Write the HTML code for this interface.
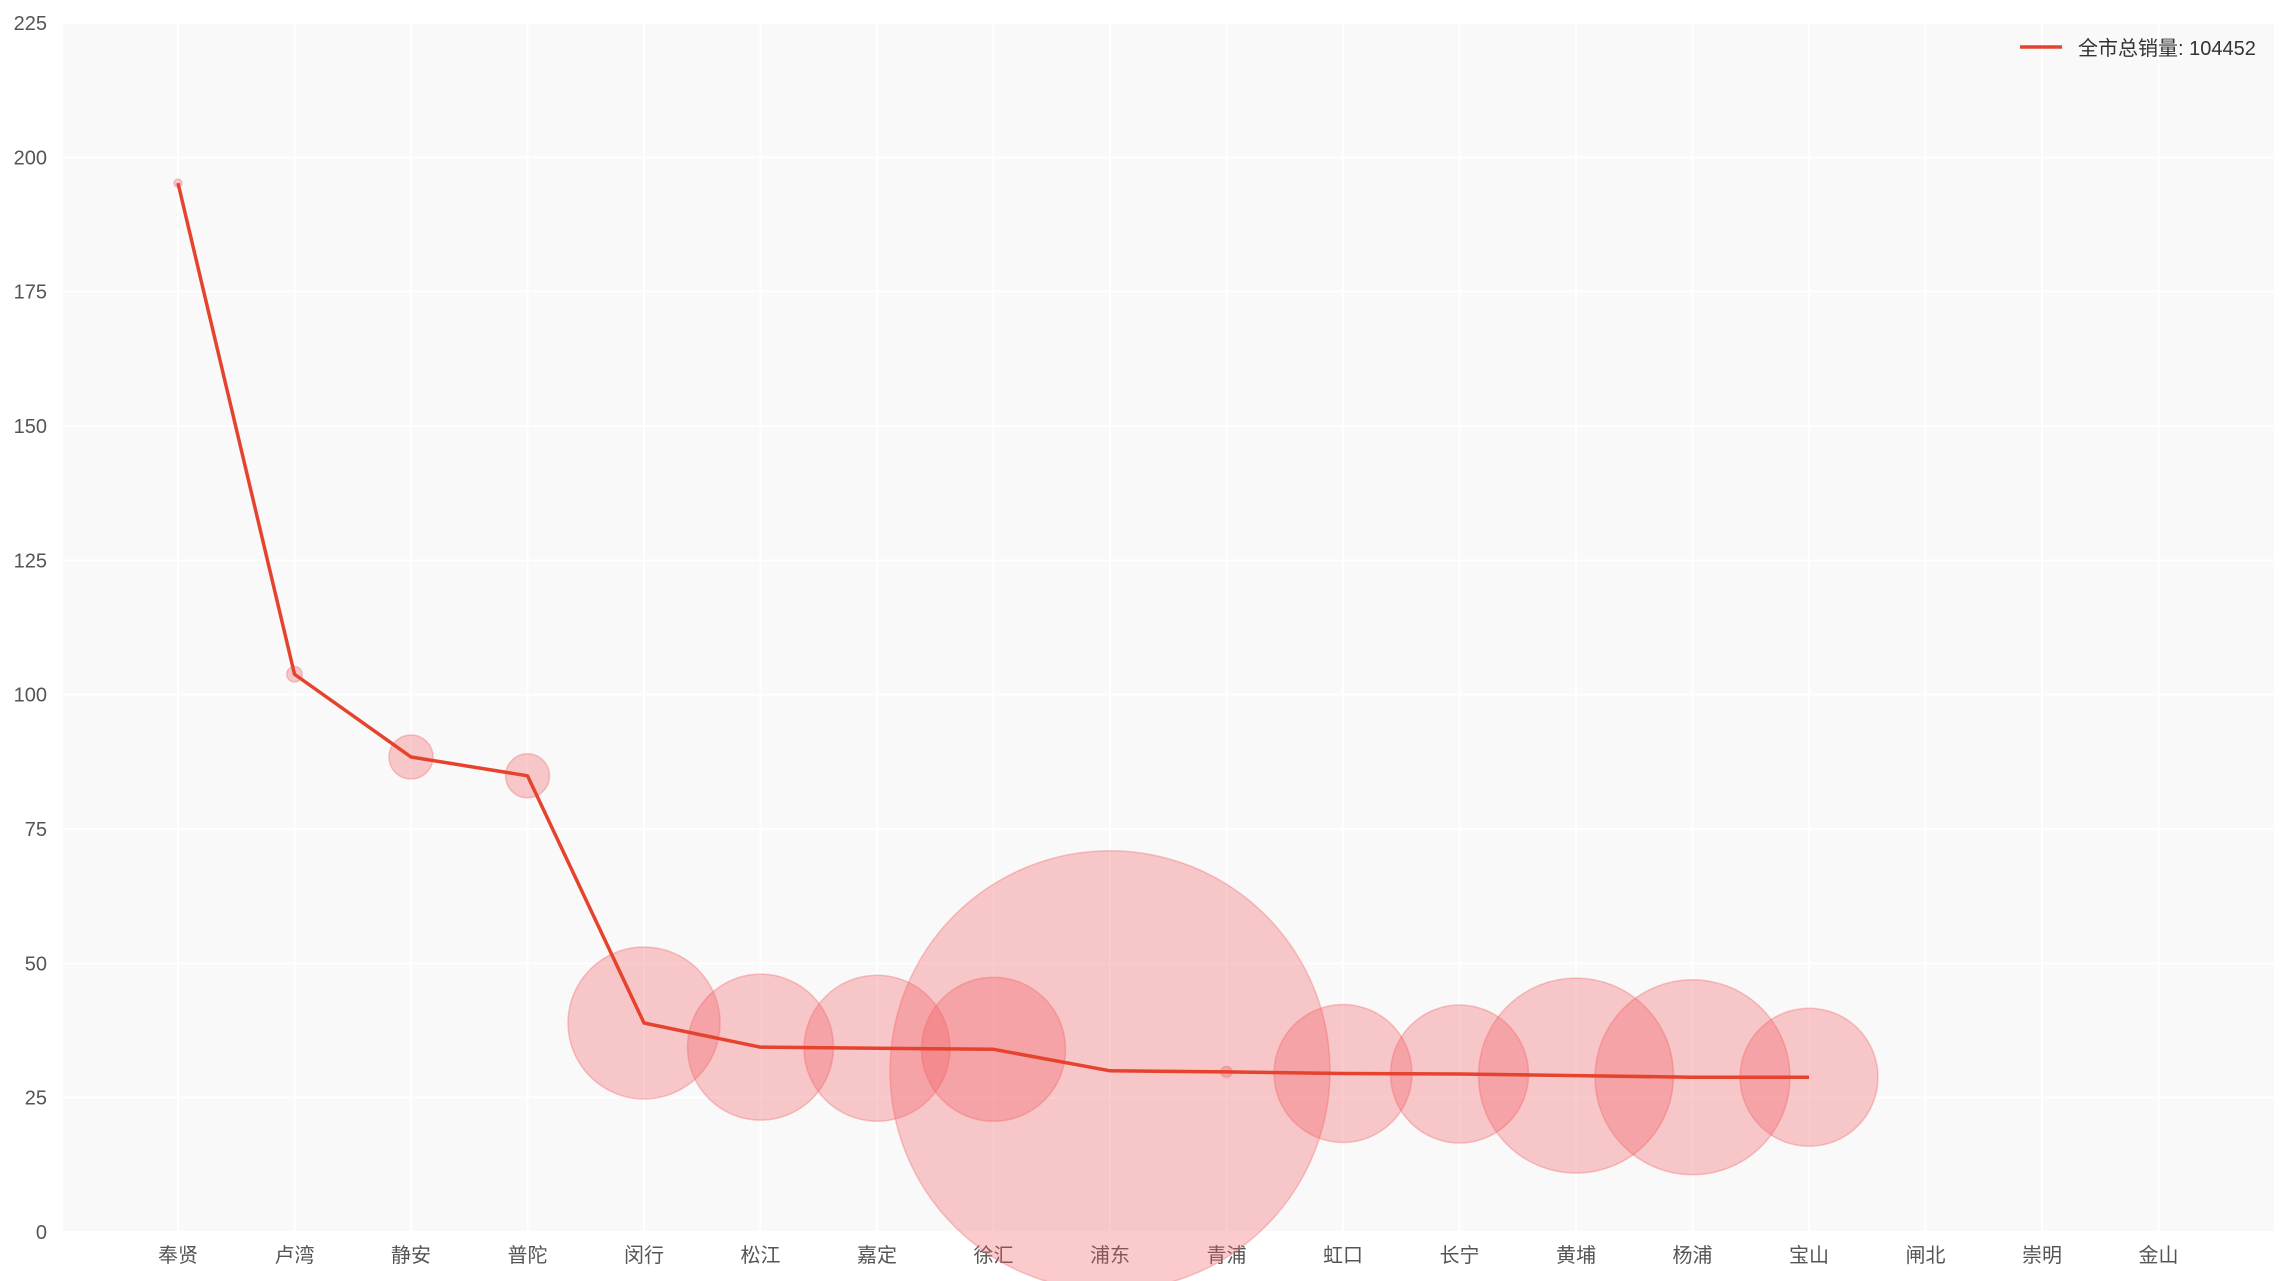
<!DOCTYPE html>
<html><head><meta charset="utf-8">
<style>
html,body{margin:0;padding:0;background:#fff;}
svg{display:block;font-family:"Liberation Sans","Noto Sans CJK SC",sans-serif;}
</style></head>
<body>
<svg id="chart" width="2289" height="1281" viewBox="0 0 2289 1281" xmlns="http://www.w3.org/2000/svg">
  <rect x="63" y="23" width="2211" height="1209" fill="#f9f9f9"/>
  <g id="grid"></g>
  <g id="yaxis"></g>
  <g id="xaxis"></g>
  <g id="bubbles"></g>
  <g id="line"></g>
  <g>
    <line x1="2020" y1="47" x2="2062" y2="47" stroke="#e5432e" stroke-width="3.5"/>
    <text x="2078" y="55" font-size="20" fill="#333">全市总销量: 104452</text>
  </g>
</svg>
<script>
const categories = ["奉贤","卢湾","静安","普陀","闵行","松江","嘉定","徐汇","浦东","青浦","虹口","长宁","黄埔","杨浦","宝山","闸北","崇明","金山"];
const avgValues = [195.2,103.8,88.4,84.9,38.9,34.4,34.2,34.0,30.0,29.8,29.5,29.4,29.1,28.8,28.8];
const salesValues = [16,60,484,484,5776,5329,5329,5184,48400,30,4761,4761,9506,9506,4761];
const yTicks = [0,25,50,75,100,125,150,175,200,225];

const NS = "http://www.w3.org/2000/svg";
const L = 63, R = 2274, T = 23, B = 1232;
const yMax = 225;
const x0 = 178, step = 116.5;
function xScale(i){ return x0 + i*step; }
function yScale(v){ return B - (v/yMax)*(B-T); }
function rScale(s){ return Math.sqrt(s); }
function mk(tag, attrs, parent){
  const el = document.createElementNS(NS, tag);
  for (const k in attrs) el.setAttribute(k, attrs[k]);
  parent.appendChild(el);
  return el;
}
const grid = document.getElementById('grid');
const yaxis = document.getElementById('yaxis');
const xaxis = document.getElementById('xaxis');
yTicks.forEach(v => {
  const y = yScale(v);
  const gl = mk('line', {x1:L, x2:R, y1:y, y2:y, stroke:'#ffffff', 'stroke-width':2}, grid);
  
  
  const t = mk('text', {x:47, y:y+7, 'font-size':20, fill:'#555', 'text-anchor':'end'}, yaxis);
  t.textContent = v;
  
  
});
categories.forEach((c, i) => {
  const x = xScale(i);
  const gl = mk('line', {x1:x, x2:x, y1:T, y2:B, stroke:'#ffffff', 'stroke-width':2}, grid);
  
  
  const t = mk('text', {x:x, y:1262, 'font-size':20, fill:'#555', 'text-anchor':'middle'}, xaxis);
  t.textContent = c;
  
  
});
const bubbles = document.getElementById('bubbles');
salesValues.forEach((s, i) => {
  const c = mk('circle', {cx:xScale(i), cy:yScale(avgValues[i]), r:rScale(s), fill:'rgba(242,90,95,0.32)', stroke:'rgba(240,100,100,0.35)', 'stroke-width':1.5}, bubbles);
  
  
});
const lineG = document.getElementById('line');
const pts = avgValues.map((v, i) => xScale(i) + ',' + yScale(v)).join(' ');
const pl = mk('polyline', {points:pts, fill:'none', stroke:'#e5432e', 'stroke-width':3.5, 'stroke-linejoin':'round'}, lineG);


</script>
</body></html>
